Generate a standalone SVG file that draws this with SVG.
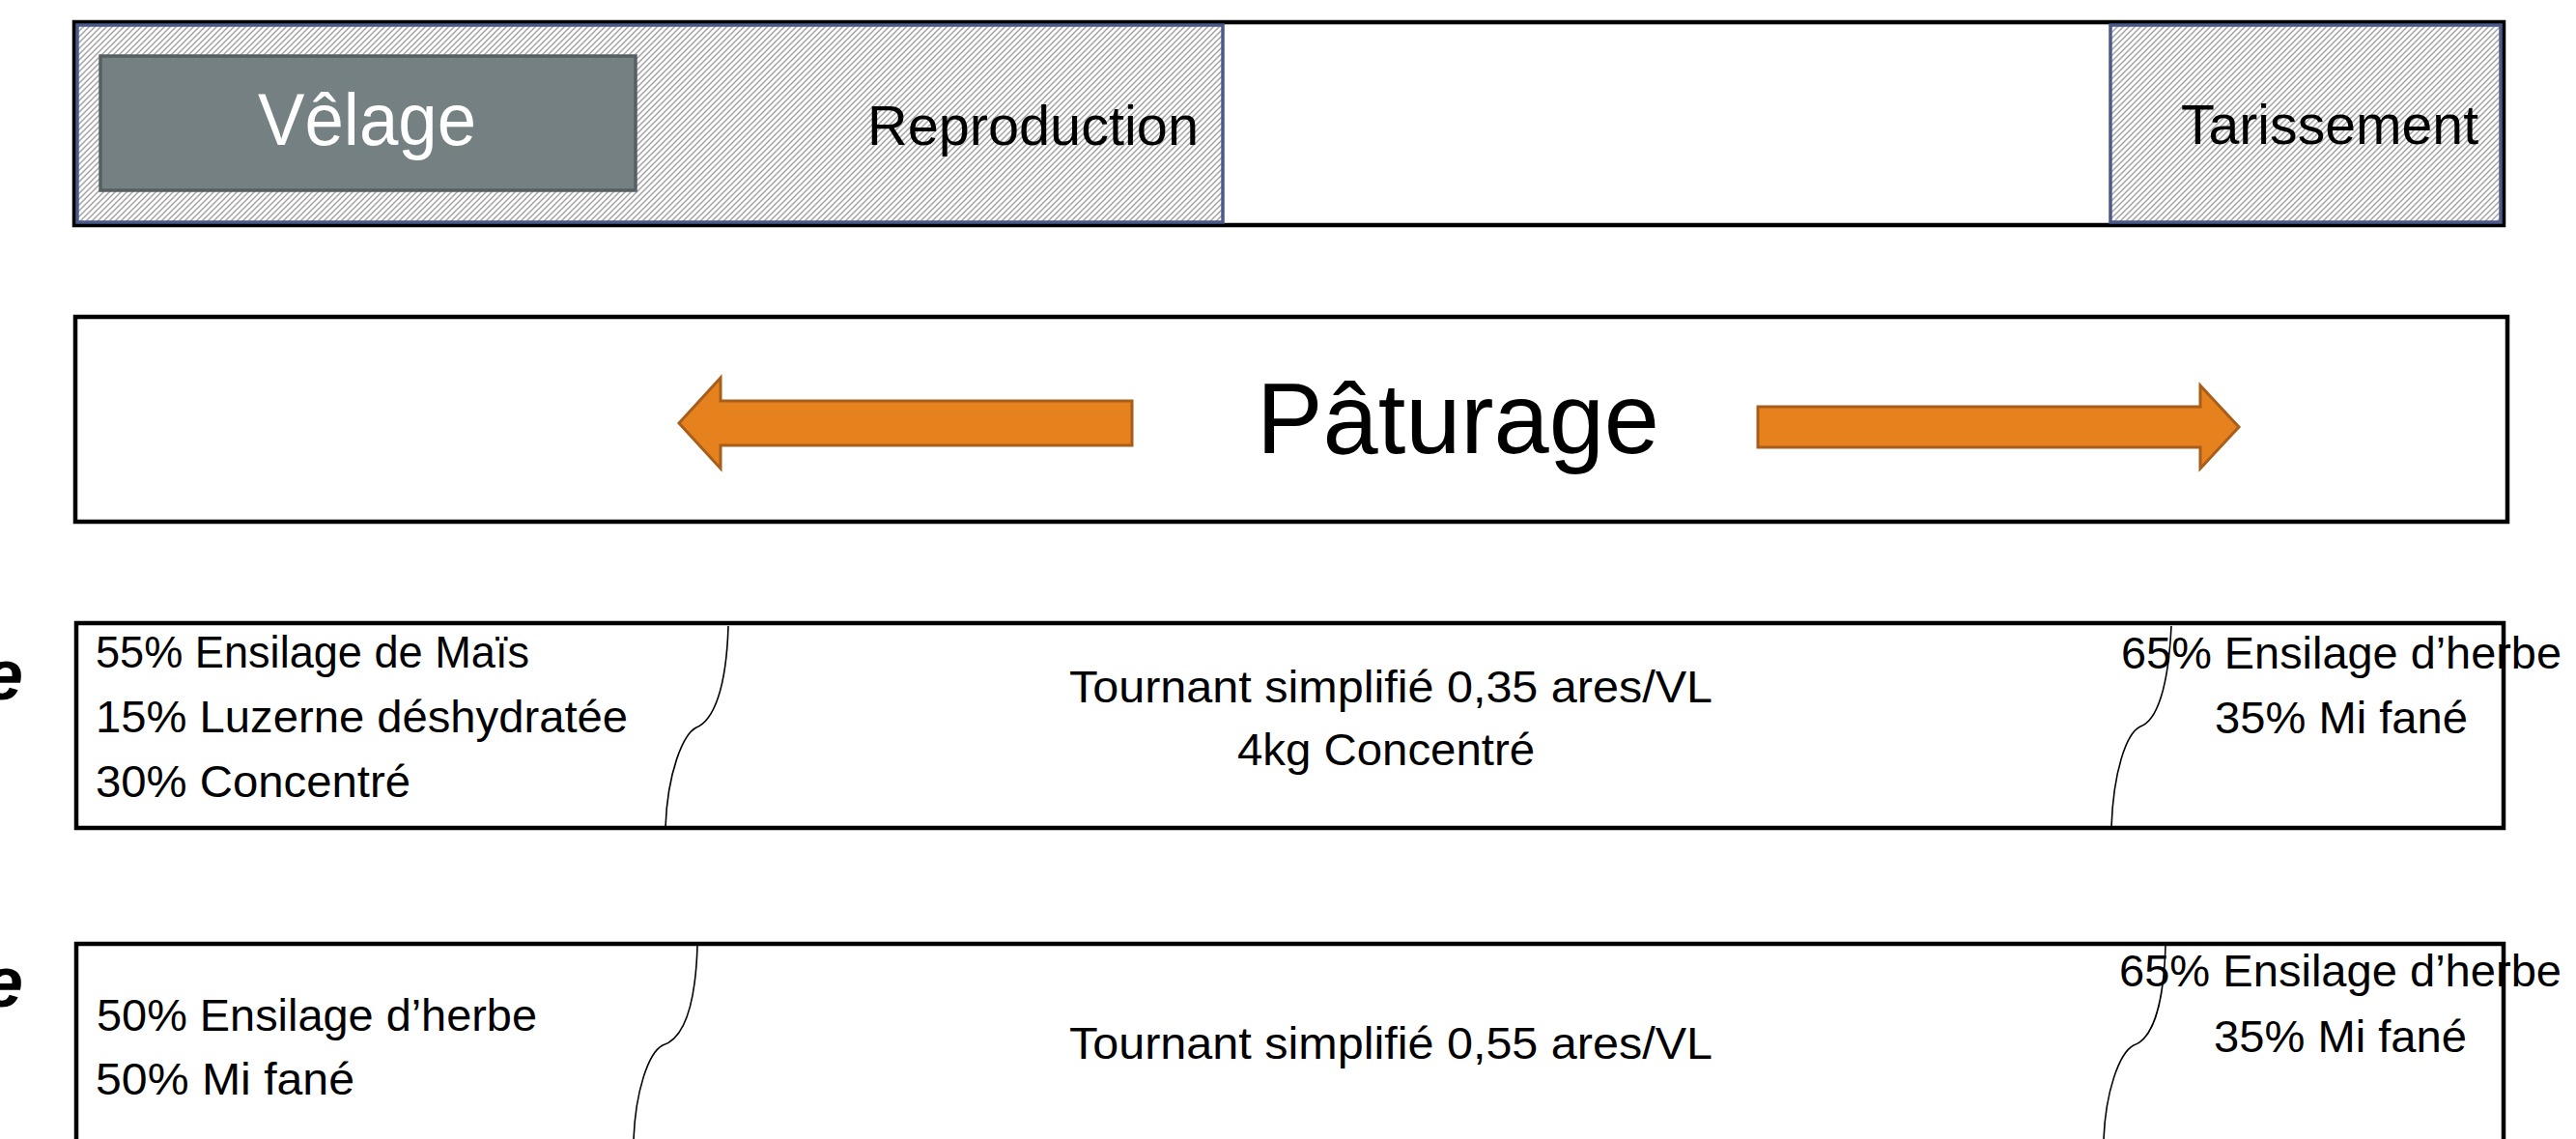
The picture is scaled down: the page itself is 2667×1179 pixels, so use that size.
<svg xmlns="http://www.w3.org/2000/svg" width="2667" height="1179" viewBox="0 0 2667 1179">
<defs>
<pattern id="hatch" width="6" height="6" patternUnits="userSpaceOnUse">
<rect width="6" height="6" fill="#ffffff"/>
<path d="M-1,1 L1,-1 M0,6 L6,0 M5,7 L7,5" stroke="#a4a4a4" stroke-width="1.5"/>
</pattern>
<style>
.frame{fill:#ffffff;stroke:#000000;stroke-width:4.5}
.hatchbox{fill:url(#hatch);stroke:#4B5A8A;stroke-width:3.5}
.t{font-family:"Liberation Sans",Arial,sans-serif;fill:#000000}
.s45{font-size:47px}
.arrow{fill:#E6821E;stroke:#A85E1A;stroke-width:3}
.brace{fill:none;stroke:#000000;stroke-width:1.6}
.cut{font-family:"Liberation Sans",Arial,sans-serif;font-weight:bold;font-style:italic;font-size:74px;fill:#000000}
</style>
</defs>
<rect width="2667" height="1179" fill="#ffffff"/>

<g id="cycle">
<rect class="frame" x="77" y="23" width="2515" height="210"/>
<g id="reproduction">
<rect class="hatchbox" x="80" y="26" width="1186" height="204"/>
<text class="t" x="898" y="150" font-size="57" textLength="343" lengthAdjust="spacingAndGlyphs">Reproduction</text>
</g>
<g id="velage">
<rect x="104" y="58" width="554" height="139" fill="#758083" stroke="#566062" stroke-width="3.5"/>
<text class="t" x="380" y="150" font-size="76" text-anchor="middle" style="fill:#ffffff" textLength="226" lengthAdjust="spacingAndGlyphs">Vêlage</text>
</g>
<g id="tarissement">
<rect class="hatchbox" x="2185" y="26" width="404" height="204"/>
<text class="t" x="2258" y="149" font-size="57" textLength="308" lengthAdjust="spacingAndGlyphs">Tarissement</text>
</g>
</g>

<g id="paturage">
<rect class="frame" x="78" y="328" width="2518" height="212"/>
<polygon class="arrow" points="703,438 746,391 746,415 1172,415 1172,461 746,461 746,485"/>
<polygon class="arrow" points="1820,421 2278,421 2278,399 2318,442 2278,485 2278,463 1820,463"/>
<text class="t" x="1301" y="469" font-size="104" textLength="417" lengthAdjust="spacingAndGlyphs">Pâturage</text>
</g>

<g id="ration1">
<text class="cut" x="24" y="724" text-anchor="end">e</text>
<rect class="frame" x="79" y="645" width="2513" height="212"/>
<text class="t s45" x="99" y="691" textLength="449" lengthAdjust="spacingAndGlyphs">55% Ensilage de Maïs</text>
<text class="t s45" x="99" y="758" textLength="551" lengthAdjust="spacingAndGlyphs">15% Luzerne déshydratée</text>
<text class="t s45" x="99" y="825" textLength="326" lengthAdjust="spacingAndGlyphs">30% Concentré</text>
<text class="t s45" x="1107" y="727" textLength="666" lengthAdjust="spacingAndGlyphs">Tournant simplifié 0,35 ares/VL</text>
<text class="t s45" x="1281" y="792" textLength="308" lengthAdjust="spacingAndGlyphs">4kg Concentré</text>
<text class="t s45" x="2196" y="692" textLength="456" lengthAdjust="spacingAndGlyphs">65% Ensilage d’herbe</text>
<text class="t s45" x="2293" y="759" textLength="262" lengthAdjust="spacingAndGlyphs">35% Mi fané</text>
</g>

<g id="ration2">
<text class="cut" x="24" y="1042" text-anchor="end">e</text>
<rect class="frame" x="79" y="977" width="2513" height="260"/>
<text class="t s45" x="100" y="1067" textLength="456" lengthAdjust="spacingAndGlyphs">50% Ensilage d’herbe</text>
<text class="t s45" x="99" y="1133" textLength="268" lengthAdjust="spacingAndGlyphs">50% Mi fané</text>
<text class="t s45" x="1107" y="1096" textLength="666" lengthAdjust="spacingAndGlyphs">Tournant simplifié 0,55 ares/VL</text>
<text class="t s45" x="2194" y="1021" textLength="458" lengthAdjust="spacingAndGlyphs">65% Ensilage d’herbe</text>
<text class="t s45" x="2292" y="1089" textLength="262" lengthAdjust="spacingAndGlyphs">35% Mi fané</text>
</g>

<g id="connectors">
<path class="brace" d="M754,648 C752,715 738,746 721,753 C707,760 691,800 689,856"/>
<path class="brace" d="M2248,648 C2245,712 2233,746 2216,752 C2201,759 2188,800 2186,856"/>
<path class="brace" d="M722,979 C720,1045 706,1076 686,1082 C671,1090 658,1130 656,1179"/>
<path class="brace" d="M2242,979 C2240,1045 2227,1076 2209,1082 C2194,1090 2180,1130 2178,1179"/>
</g>
</svg>
